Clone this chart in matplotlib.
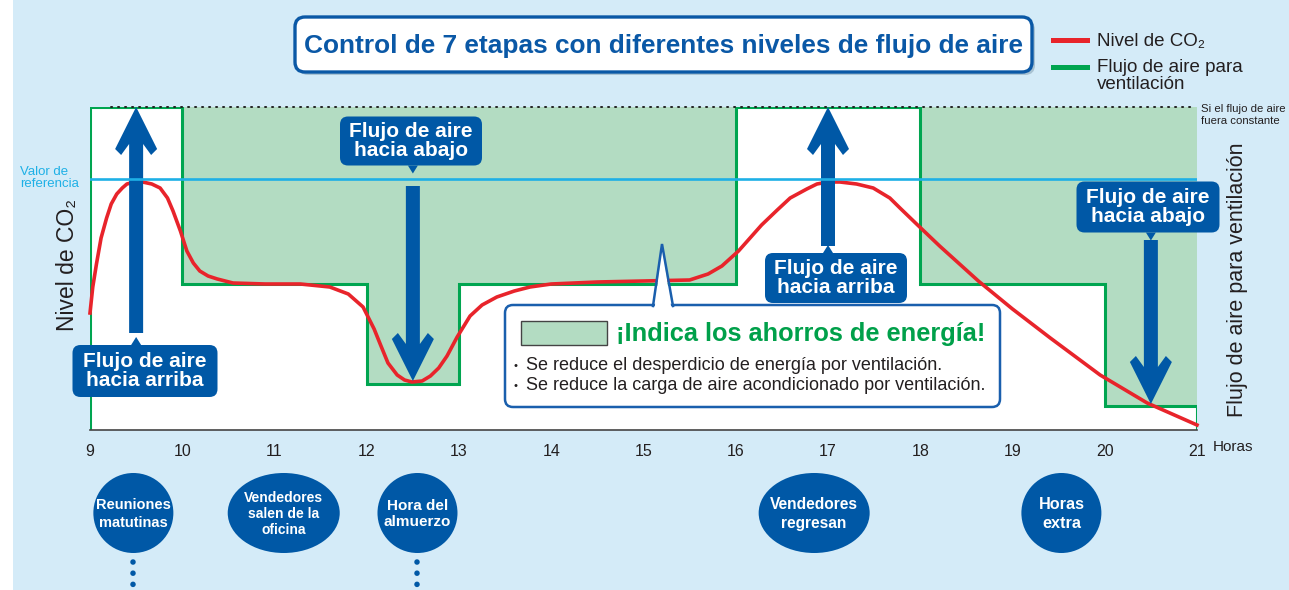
import matplotlib.pyplot as plt
from matplotlib.patches import FancyBboxPatch, Ellipse, Polygon, Rectangle
from matplotlib.transforms import Affine2D

# --- data -------------------------------------------------------------
hours = list(range(9, 22))

# CO2 level (arbitrary units, 0 = axis, 323 = top of plot)
co2_hours = [9.00, 9.03, 9.07, 9.12, 9.18, 9.23, 9.29, 9.35, 9.40, 9.48, 9.57, 9.67, 9.76,
             9.84, 9.90, 9.98, 10.05, 10.12, 10.19, 10.28, 10.38, 10.55, 10.9, 11.28, 11.6,
             11.8, 11.96, 12.08, 12.15, 12.23, 12.33, 12.41, 12.49, 12.60, 12.69, 12.78,
             12.87, 12.98, 13.12, 13.25, 13.41, 13.6, 13.77, 14.0, 14.5, 15.0, 15.5, 15.7,
             15.85, 16.03, 16.28, 16.45, 16.59, 16.77, 16.88, 17.0, 17.13, 17.31, 17.49,
             17.67, 17.78, 17.96, 18.21, 18.63, 19.0, 19.41, 19.95, 20.46, 21.0]
co2_level = [117, 143, 166, 192, 212, 226, 236, 242, 246, 248, 248, 246, 242,
             232, 219, 199, 179, 167, 159, 154, 151, 147, 146, 146, 143,
             136, 123, 101, 85, 67, 55, 50, 48, 49, 54, 62,
             74, 93, 114, 125, 133, 139, 143, 146, 148, 149, 150, 156,
             164, 179, 205, 220, 232, 241, 246, 248, 248, 246, 242,
             232, 222, 206, 184, 149, 121, 92, 55, 27, 5]

# ventilation airflow, 7 stages
flow_edges = [9, 10, 12, 13, 16, 18, 20, 21]
flow_level = [323, 146, 46, 146, 323, 146, 24]
flow_constant = 323
reference = 251

arrow_hours = [9.5, 12.5, 17, 20.5]

events = ["Reuniones\nmatutinas", "Vendedores\nsalen de la\noficina", "Hora del\nalmuerzo",
          "Vendedores\nregresan", "Horas\nextra"]
event_hours = [9.47, 11.1, 12.55, 16.85, 19.53]

# --- style ------------------------------------------------------------
BG = '#d4ebf8'
BLUE = '#0058a6'
RED = '#e8242b'
GREEN = '#00a550'
FILL = '#b3dcc2'
REF = '#1eb0e6'
DARK = '#231f20'
plt.rcParams['font.family'] = ['Liberation Sans', 'DejaVu Sans']

W, H = 1289, 590
fig = plt.figure(figsize=(W / 100, H / 100), dpi=100, facecolor=BG)
pix = Affine2D().scale(1 / W, -1 / H).translate(0, 1) + fig.transFigure
fig.add_artist(Rectangle((0, 0), 13, H, transform=pix, fc='white', ec='none'))

ax = fig.add_axes([90 / W, 160 / H, 1107 / W, 323 / H])
ax.set_xlim(9, 21)
ax.set_ylim(0, 323)
ax.set_facecolor('white')
for s in ['top', 'right', 'left']:
    ax.spines[s].set_visible(False)
ax.spines['bottom'].set_color('#444444')
ax.spines['bottom'].set_linewidth(1.2)
ax.spines['bottom'].set_zorder(10)
ax.set_yticks([])
ax.set_xticks(hours)
ax.tick_params(axis='x', length=0, pad=10, labelsize=11.5, labelcolor=DARK)


def hx(h):
    return 90 + (h - 9) * 1107 / 12


# airflow steps and savings area
ax.stairs(flow_level, flow_edges, baseline=flow_constant, fill=True, color=FILL, zorder=1)
ax.stairs(flow_level, flow_edges, baseline=0, color=GREEN, lw=2.2, zorder=2)
ax.plot([9.23, 20.95], [flow_constant, flow_constant], color='#222222', lw=1.4,
        ls=(0, (0.6, 3.0)), dash_capstyle='round', zorder=3, clip_on=False)
ax.plot(co2_hours, co2_level, color=RED, lw=2.6, zorder=4, clip_on=False,
        solid_joinstyle='round')


# arrows
def arrow_poly(xc, y_tail, y_tip):
    s = 1 if y_tail > y_tip else -1
    shape = [(0, 0), (21, 42), (15, 48), (7, 37), (7, None), (-7, None), (-7, 37), (-15, 48), (-21, 42)]
    return [(xc + dx, y_tail if dy is None else y_tip + s * dy) for dx, dy in shape]


arrow_ends = [(333, 107), (186, 381), (246, 107), (240, 404)]
for h, (yt, yp) in zip(arrow_hours, arrow_ends):
    ax.add_patch(Polygon(arrow_poly(hx(h), yt, yp), closed=True, fc=BLUE, ec='none',
                         transform=pix, zorder=5, clip_on=False))

ax.axhline(reference, color=REF, lw=1.9, zorder=6)


def label_box(xc, yc, w, h, px, up, text):
    ax.add_patch(FancyBboxPatch((xc - w / 2, yc - h / 2), w, h,
                                boxstyle='round,pad=0,rounding_size=8', fc=BLUE, ec='none',
                                transform=pix, zorder=7, clip_on=False))
    yb = yc - h / 2 if up else yc + h / 2
    ya = yb - 8 if up else yb + 8
    ax.add_patch(Polygon([(px - 5, yb), (px, ya), (px + 5, yb)], fc=BLUE, ec='none',
                         transform=pix, zorder=7, clip_on=False))
    ax.text(xc, yc, text, transform=pix, ha='center', va='center', color='white',
            fontsize=15, fontweight='bold', linespacing=1.05, zorder=9)


label_box(145, 371, 145, 52, hx(arrow_hours[0]), True, "Flujo de aire\nhacia arriba")
label_box(411, 141, 142, 49, hx(arrow_hours[1]), False, "Flujo de aire\nhacia abajo")
label_box(836, 278, 142, 50, hx(arrow_hours[2]), True, "Flujo de aire\nhacia arriba")
label_box(1148, 207, 143, 51, hx(arrow_hours[3]), False, "Flujo de aire\nhacia abajo")

# energy savings callout
ax.add_patch(FancyBboxPatch((505, 305), 495, 102, boxstyle='round,pad=0,rounding_size=8',
                            fc='white', ec='#1a5fad', lw=1.8, transform=pix, zorder=8, clip_on=False))
ax.add_patch(Polygon([(654.5, 309), (662, 246), (671.5, 309)], fc='white', ec='none',
                     transform=pix, zorder=8, clip_on=False))
ax.plot([653, 662, 673], [306, 244, 306], color='#1a5fad', lw=1.8, transform=pix,
        zorder=8, clip_on=False, solid_joinstyle='miter')
ax.add_patch(Rectangle((521, 321), 86, 24, fc=FILL, ec='#444444', lw=1, transform=pix,
                       zorder=9, clip_on=False))
ax.text(616, 334, "¡Indica los ahorros de energía!", transform=pix, ha='left', va='center',
        color='#00a04a', fontsize=18.3, fontweight='bold', zorder=9)
for yy, line in [(366, "Se reduce el desperdicio de energía por ventilación."),
                 (386, "Se reduce la carga de aire acondicionado por ventilación.")]:
    ax.text(516, yy, "•", transform=pix, ha='center', va='center', color=DARK, fontsize=8, zorder=9)
    ax.text(526, yy, line, transform=pix, ha='left', va='center', color=DARK, fontsize=13, zorder=9)

# title box
ax.add_patch(FancyBboxPatch((298, 20), 737, 55, boxstyle='round,pad=0,rounding_size=10',
                            fc='#a9c3d3', ec='none', transform=pix, zorder=8, clip_on=False))
ax.add_patch(FancyBboxPatch((295, 17), 737, 55, boxstyle='round,pad=0,rounding_size=10',
                            fc='white', ec='#0a58a6', lw=2.4, transform=pix, zorder=8, clip_on=False))
ax.text(663, 46, "Control de 7 etapas con diferentes niveles de flujo de aire", transform=pix,
        ha='center', va='center', color='#0a58a6', fontsize=18.9, fontweight='bold', zorder=9)

# legend
ax.plot([1053, 1087], [40, 40], color=RED, lw=3.6, transform=pix, clip_on=False)
ax.plot([1053, 1087], [67, 67], color=GREEN, lw=3.6, transform=pix, clip_on=False)
ax.text(1097, 41, "Nivel de CO₂", transform=pix, ha='left', va='center', color=DARK, fontsize=13.5)
ax.text(1097, 76, "Flujo de aire para\nventilación", transform=pix, ha='left', va='center',
        color=DARK, fontsize=13.5, linespacing=1.0)

# axis texts
ax.text(67, 265, "Nivel de CO₂", transform=pix, rotation=90, ha='center', va='center',
        color=DARK, fontsize=16.5)
ax.text(1237, 280, "Flujo de aire para ventilación", transform=pix, rotation=90,
        ha='center', va='center', color=DARK, fontsize=15.5)
ax.text(1213, 447, "Horas", transform=pix, ha='left', va='center', color=DARK, fontsize=11)
ax.text(20, 178, "Valor de\nreferencia", transform=pix, ha='left', va='center', color=REF,
        fontsize=9.5, linespacing=1.1)
ax.text(1201, 115, "Si el flujo de aire\nfuera constante", transform=pix, ha='left', va='center',
        color=DARK, fontsize=8.2, linespacing=1.15)

# events along the day
widths = [80, 112, 80, 111, 80]
sizes = [10.5, 10, 11, 11.2, 11.7]
spacing = [1.35, 1.2, 1.2, 1.3, 1.3]
for name, h, w, fs, ls in zip(events, event_hours, widths, sizes, spacing):
    cx = hx(h)
    ax.add_patch(Ellipse((cx, 513), w, 80, fc=BLUE, ec='none', transform=pix, clip_on=False))
    ax.text(cx, 514, name, transform=pix, ha='center', va='center', color='white',
            fontsize=fs, fontweight='bold', linespacing=ls, zorder=9)
for h in [event_hours[0], event_hours[2]]:
    ax.plot([hx(h), hx(h)], [562, 595], color=BLUE, lw=4, ls=(0, (0.01, 2.0)),
            dash_capstyle='round', transform=pix, clip_on=False)

fig.savefig('out.png', dpi=100, facecolor=BG)
